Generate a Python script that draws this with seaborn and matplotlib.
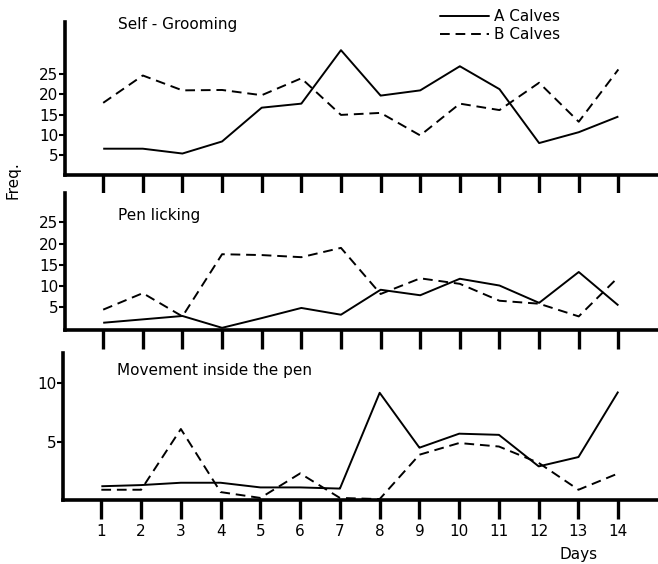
import pandas as pd
import numpy as np
import seaborn as sns
import matplotlib.pyplot as plt
from matplotlib.lines import Line2D

sns.set_style("white")
plt.rcParams['font.family'] = ['DejaVu Sans']
plt.rcParams['text.color'] = 'black'
plt.rcParams['xtick.color'] = 'black'
plt.rcParams['ytick.color'] = 'black'
plt.rcParams['axes.edgecolor'] = 'black'

days = list(range(1, 15))

# Self-grooming
groom_a = [6.5, 6.5, 5.3, 8.3, 16.7, 17.7, 31, 19.7, 21, 27, 21.3, 7.9, 10.6, 14.5]
groom_b = [17.9, 24.7, 21, 21.1, 19.8, 24, 14.9, 15.4, 9.8, 17.7, 16.1, 22.9, 13.2, 26.2]
# Pen licking
lick_a = [1.3, 2.1, 2.9, 0.1, 2.4, 4.8, 3.2, 9.1, 7.8, 11.7, 10.1, 6.0, 13.3, 5.4]
lick_b = [4.4, 8.3, 2.8, 17.5, 17.3, 16.8, 19.0, 8.1, 11.8, 10.5, 6.5, 5.8, 2.8, 12.1]
# Movement inside the pen
move_a = [1.2, 1.3, 1.5, 1.5, 1.1, 1.1, 1.0, 9.2, 4.5, 5.7, 5.6, 2.9, 3.7, 9.3]
move_b = [0.9, 0.9, 6.1, 0.7, 0.2, 2.3, 0.2, 0.1, 3.9, 4.9, 4.6, 3.2, 0.9, 2.3]

titles = ["Self - Grooming", "Pen licking", "Movement inside the pen"]
title_y = [1.03, 0.89, 0.93]
yticks_list = [[5, 10, 15, 20, 25], [5, 10, 15, 20, 25], [5, 10]]
ylims = [(0, 38), (-0.4, 32), (0, 12.6)]

fig = plt.figure(figsize=(6.58, 5.64), dpi=100)
boxes = [[0.099, 0.69, 0.901, 0.271],
         [0.099, 0.415, 0.901, 0.243],
         [0.096, 0.113, 0.904, 0.261]]
series = [(groom_a, groom_b), (lick_a, lick_b), (move_a, move_b)]

for i, (box, (a, b)) in enumerate(zip(boxes, series)):
    ax = fig.add_axes(box)
    df = pd.DataFrame({
        'day': days + days,
        'freq': a + b,
        'group': ['A Calves'] * 14 + ['B Calves'] * 14,
    })
    sns.lineplot(data=df, x='day', y='freq', style='group', color='black',
                 dashes={'A Calves': (1, 0), 'B Calves': (5, 3)},
                 linewidth=1.4, legend=False, ax=ax)
    ax.set_xlim(0.04, 15)
    ax.set_ylim(*ylims[i])
    sns.despine(ax=ax)
    for s in ['left', 'bottom']:
        ax.spines[s].set_linewidth(2.6)
    ax.set_xticks(days)
    ax.tick_params(axis='x', bottom=True, direction='out', length=14, width=2.4,
                   labelsize=11, pad=3)
    if i < 2:
        ax.set_xticklabels([])
    else:
        ax.set_xticklabels([str(d) for d in days])
    ax.set_yticks(yticks_list[i])
    ax.tick_params(axis='y', left=True, direction='out', length=4, width=1.5,
                   labelsize=11, pad=1)
    ax.set_xlabel('')
    ax.set_ylabel('')
    ax.text(0.09, title_y[i], titles[i], transform=ax.transAxes,
            fontsize=11, va='top', ha='left')

fig.text(0.85, 0.004, 'Days', fontsize=11, ha='left', va='bottom')
fig.text(0.02, 0.68, 'Freq.', fontsize=11, rotation=90, ha='center', va='center')

handles = [Line2D([], [], color='black', linewidth=1.4, linestyle='-'),
           Line2D([], [], color='black', linewidth=1.4, linestyle=(0, (5, 3)))]
fig.legend(handles, ['A Calves', 'B Calves'], loc='upper left',
           bbox_to_anchor=(0.648, 1.008), frameon=False, fontsize=11,
           handlelength=3.2, handletextpad=0.3, labelspacing=0.2)

fig.savefig('out.png', dpi=100)
